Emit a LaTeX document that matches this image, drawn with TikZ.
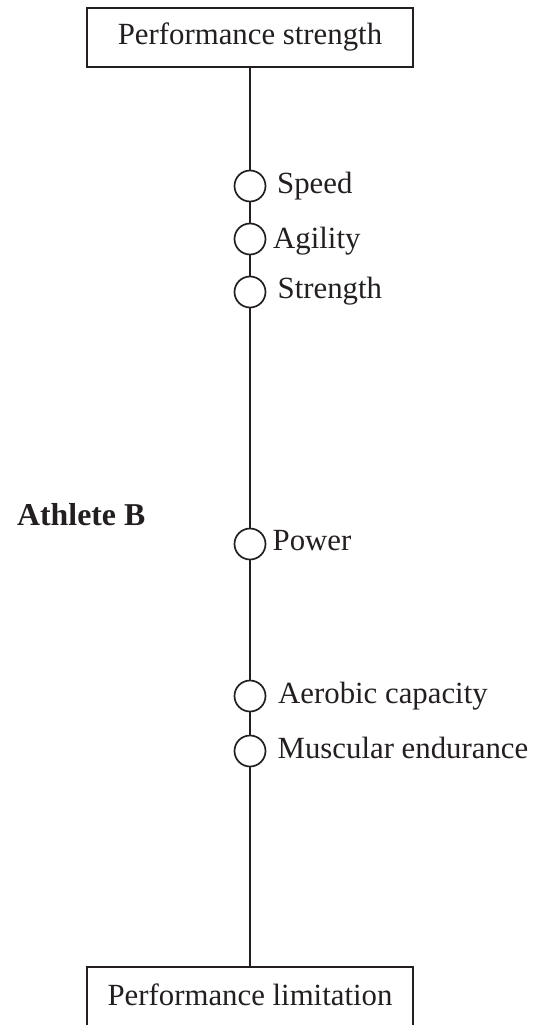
\documentclass[tikz,border=0pt]{standalone}
\usepackage{fontspec}
\setmainfont{Liberation Serif}
\definecolor{ink}{RGB}{35,31,32}
\begin{document}
\begin{tikzpicture}[x=1pt,y=-1pt,
  every node/.style={text=ink},
  box/.style={draw=ink,line width=2pt,fill=white,minimum width=326pt,
    text height=21pt,text depth=6.7pt,inner sep=0pt,font=\fontsize{30.8}{36}\selectfont},
  dot/.style={circle,draw=ink,line width=1.7pt,fill=white,minimum size=31pt,inner sep=0pt},
  lab/.style={anchor=base west,inner sep=0pt,font=\fontsize{30.8}{36}\selectfont},
  spine/.style={draw=ink,line width=2.5pt}]
\clip (0,0) rectangle (543,1025);
% nodes
\node[box,minimum height=59pt] (top) at (250,37.5) {Performance strength};
\node[box,minimum height=62pt] (bot) at (250,998) {Performance limitation};
\node[dot] (c1) at (250,186) {};
\node[dot] (c2) at (250,239) {};
\node[dot] (c3) at (250,292) {};
\node[dot] (c4) at (250,544) {};
\node[dot] (c5) at (250,696) {};
\node[dot] (c6) at (250,751) {};
% connectors
\draw[spine] (top) -- (c1);
\draw[spine] (c1) -- (c2);
\draw[spine] (c2) -- (c3);
\draw[spine] (c3) -- (c4);
\draw[spine] (c4) -- (c5);
\draw[spine] (c5) -- (c6);
\draw[spine] (c6) -- (bot);
% labels
\node[lab] (l1) at (277,193) {Speed};
\node[lab] (l2) at (273,248) {Agility};
\node[lab] (l3) at (277.5,298) {Strength};
\node[lab] (l4) at (272.5,550) {Power};
\node[lab] (l5) at (278,703) {Aerobic capacity};
\node[lab] (l6) at (277.5,758) {Muscular endurance};
\node[lab,font=\fontsize{31.8}{38}\selectfont\bfseries] (ath) at (17,525) {Athlete B};
\end{tikzpicture}
\end{document}
